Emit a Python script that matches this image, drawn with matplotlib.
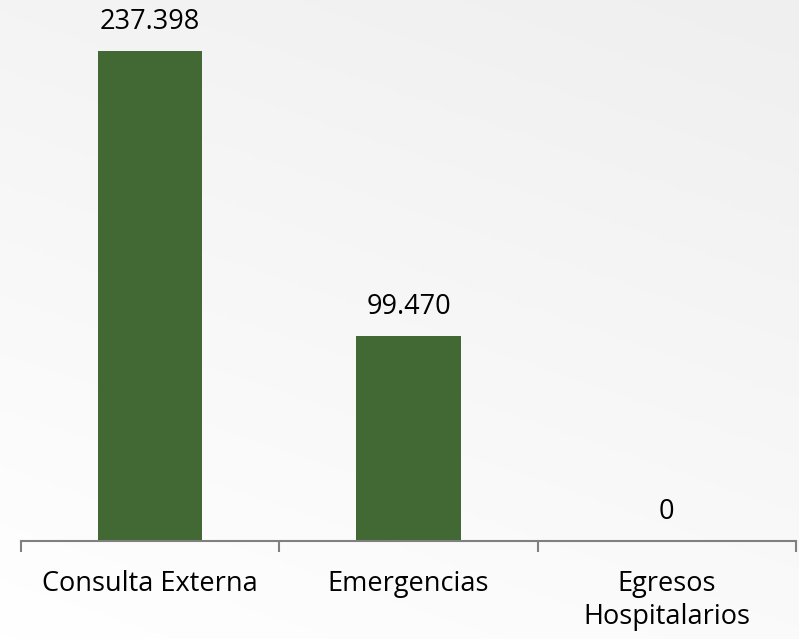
import matplotlib
matplotlib.use("Agg")
import matplotlib.pyplot as plt
import numpy as np

categories = ["Consulta Externa", "Emergencias", "Egresos\nHospitalarios"]
values = [237398, 99470, 0]
value_labels = ["237.398", "99.470", "0"]

BAR_COLOR = "#426933"
FONT = ["Open Sans", "DejaVu Sans"]

fig = plt.figure(figsize=(7.99, 6.39), dpi=100)

# soft light-grey gradient background (white bottom-left -> grey top-right)
bg = fig.add_axes([0, 0, 1, 1], zorder=0)
gx, gy = np.meshgrid(np.linspace(0, 1, 200), np.linspace(0, 1, 200))
grad = 0.3 * gx + 0.7 * gy
bg.imshow(grad, cmap=matplotlib.colors.LinearSegmentedColormap.from_list(
    "bg", ["#ffffff", "#efefef"]), origin="lower", extent=[0, 1, 0, 1],
    aspect="auto")
bg.axis("off")

ax = fig.add_axes([21 / 799, (639 - 541) / 639, 775 / 799, 541 / 639], zorder=1)
ax.patch.set_alpha(0)

x = np.arange(len(categories))
ax.bar(x, values, width=0.403, color=BAR_COLOR)

for xi, v, lab in zip(x, values, value_labels):
    ax.annotate(lab, xy=(xi, v), xytext=(0, 15.5), textcoords="offset points",
                ha="center", va="baseline", fontsize=19.5, family=FONT,
                color="#000000")

ax.set_xlim(-0.5, len(categories) - 0.5)
ax.set_ylim(0, 237398 * 541 / 490)

for s in ["top", "right", "left"]:
    ax.spines[s].set_visible(False)
ax.spines["bottom"].set_color("#808080")
ax.spines["bottom"].set_linewidth(1.5)
ax.set_yticks([])

ax.set_xticks(x)
ax.set_xticklabels(categories, fontsize=19.5, family=FONT, color="#000000",
                   linespacing=1.25)
ax.set_xticks(np.arange(-0.5, len(categories)), minor=True)
ax.tick_params(axis="x", which="major", length=0, pad=21)
ax.tick_params(axis="x", which="minor", length=8, width=1.5, color="#808080",
               direction="out")

fig.savefig("out.png", dpi=100)
